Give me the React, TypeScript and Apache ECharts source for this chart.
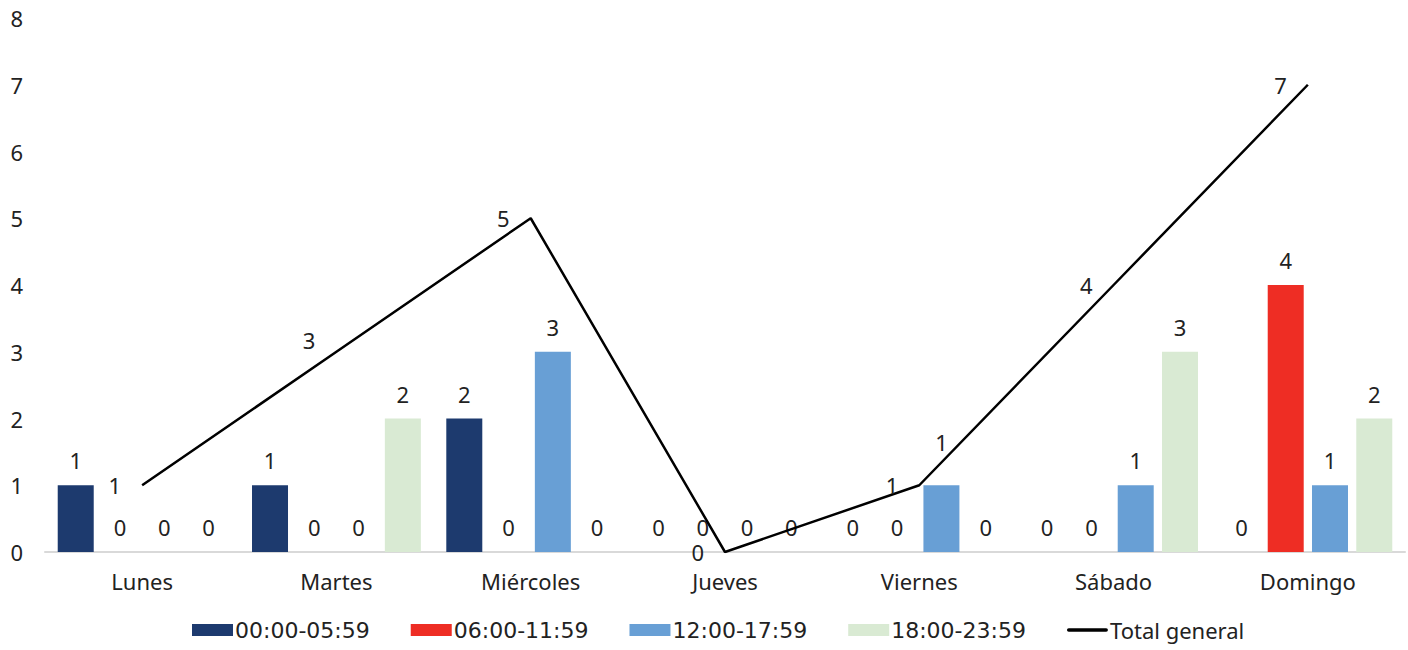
import React, { useEffect, useRef } from "react";
import * as echarts from "echarts";

const categories = ["Lunes", "Martes", "Miércoles", "Jueves", "Viernes", "Sábado", "Domingo"];
const seriesNames = ["00:00-05:59", "06:00-11:59", "12:00-17:59", "18:00-23:59"];
const s0005 = [1, 1, 2, 0, 0, 0, 0];
const s0611 = [0, 0, 0, 0, 0, 0, 4];
const s1217 = [0, 0, 3, 0, 1, 1, 1];
const s1823 = [0, 2, 0, 0, 0, 3, 2];
const totalGeneral = [1, 3, 5, 0, 1, 4, 7];
const colors = ["#1d3a6e", "#ee2d24", "#689fd5", "#d9ead3"];
const yTicks = [0, 1, 2, 3, 4, 5, 6, 7, 8];

const FONT = "Noto Sans";
const TXT = "#222222";

export default function App() {
  const ref = useRef<HTMLDivElement>(null);
  useEffect(() => {
    if (!ref.current) return;
    const chart = echarts.init(ref.current, null, { renderer: "svg" });
    const barData = [s0005, s0611, s1217, s1823];
    const labelStyle = { fontFamily: FONT, fontSize: 22, color: TXT };
    const valueLabel = { ...labelStyle, lineHeight: 22 };
    const lineData = totalGeneral.map((v, i) =>
      i === 1 ? { value: v, label: { offset: [0, -12] } } : v
    );
    // Viernes label of 12:00-17:59 is lifted above the line, as in the reference
    const barSeriesData = barData.map((d, si) =>
      d.map((v, ci) => (si === 2 && ci === 4 ? { value: v, label: { offset: [0, -18] } } : v))
    );
    chart.setOption({
      animation: false,
      textStyle: { fontFamily: FONT },
      grid: { left: 45, right: 3, top: 18, bottom: 98 },
      xAxis: {
        type: "category",
        data: categories,
        axisLine: { show: true, lineStyle: { color: "#d9d9d9", width: 2 } },
        axisTick: { show: false },
        axisLabel: { ...labelStyle, margin: 18 },
      },
      yAxis: {
        type: "value",
        min: yTicks[0],
        max: yTicks[yTicks.length - 1],
        interval: 1,
        axisLine: { show: false },
        axisTick: { show: false },
        splitLine: { show: false },
        axisLabel: { ...labelStyle, margin: 22, align: "right" },
      },
      legend: {
        bottom: 4,
        left: 187,
        itemWidth: 41,
        itemHeight: 12,
        itemGap: 41,
        textStyle: { ...labelStyle, padding: [0, 0, 0, -3] },
        data: [
          ...seriesNames.map((n) => ({
            name: n,
            icon: "rect",
            textStyle: { ...labelStyle, fontFamily: "DejaVu Sans", padding: [0, 0, 0, -3] },
          })),
          {
            name: "Total general",
            icon: "path://M2,0L43,0A2,2,0,0,1,43,4L2,4A2,2,0,0,1,2,0Z",
            itemStyle: { color: "#000000" },
          },
        ],
      },
      series: [
        ...barSeriesData.map((d, i) => ({
          type: "bar",
          name: seriesNames[i],
          data: d,
          barWidth: 36,
          barGap: "23%",
          itemStyle: { color: colors[i] },
          label: { show: true, position: "top", distance: 14, ...valueLabel },
        })),
        {
          type: "line",
          name: "Total general",
          data: lineData,
          symbol: "circle",
          symbolSize: 0,
          showSymbol: true,
          lineStyle: { color: "#000000", width: 2.5 },
          itemStyle: { color: "#000000" },
          label: { show: true, position: "left", distance: 21, ...valueLabel },
          z: 5,
        },
      ],
    });
    return () => chart.dispose();
  }, []);
  return (
    <div
      ref={ref}
      style={{ position: "fixed", left: 0, top: 0, width: 1408, height: 650, background: "#fff" }}
    />
  );
}
